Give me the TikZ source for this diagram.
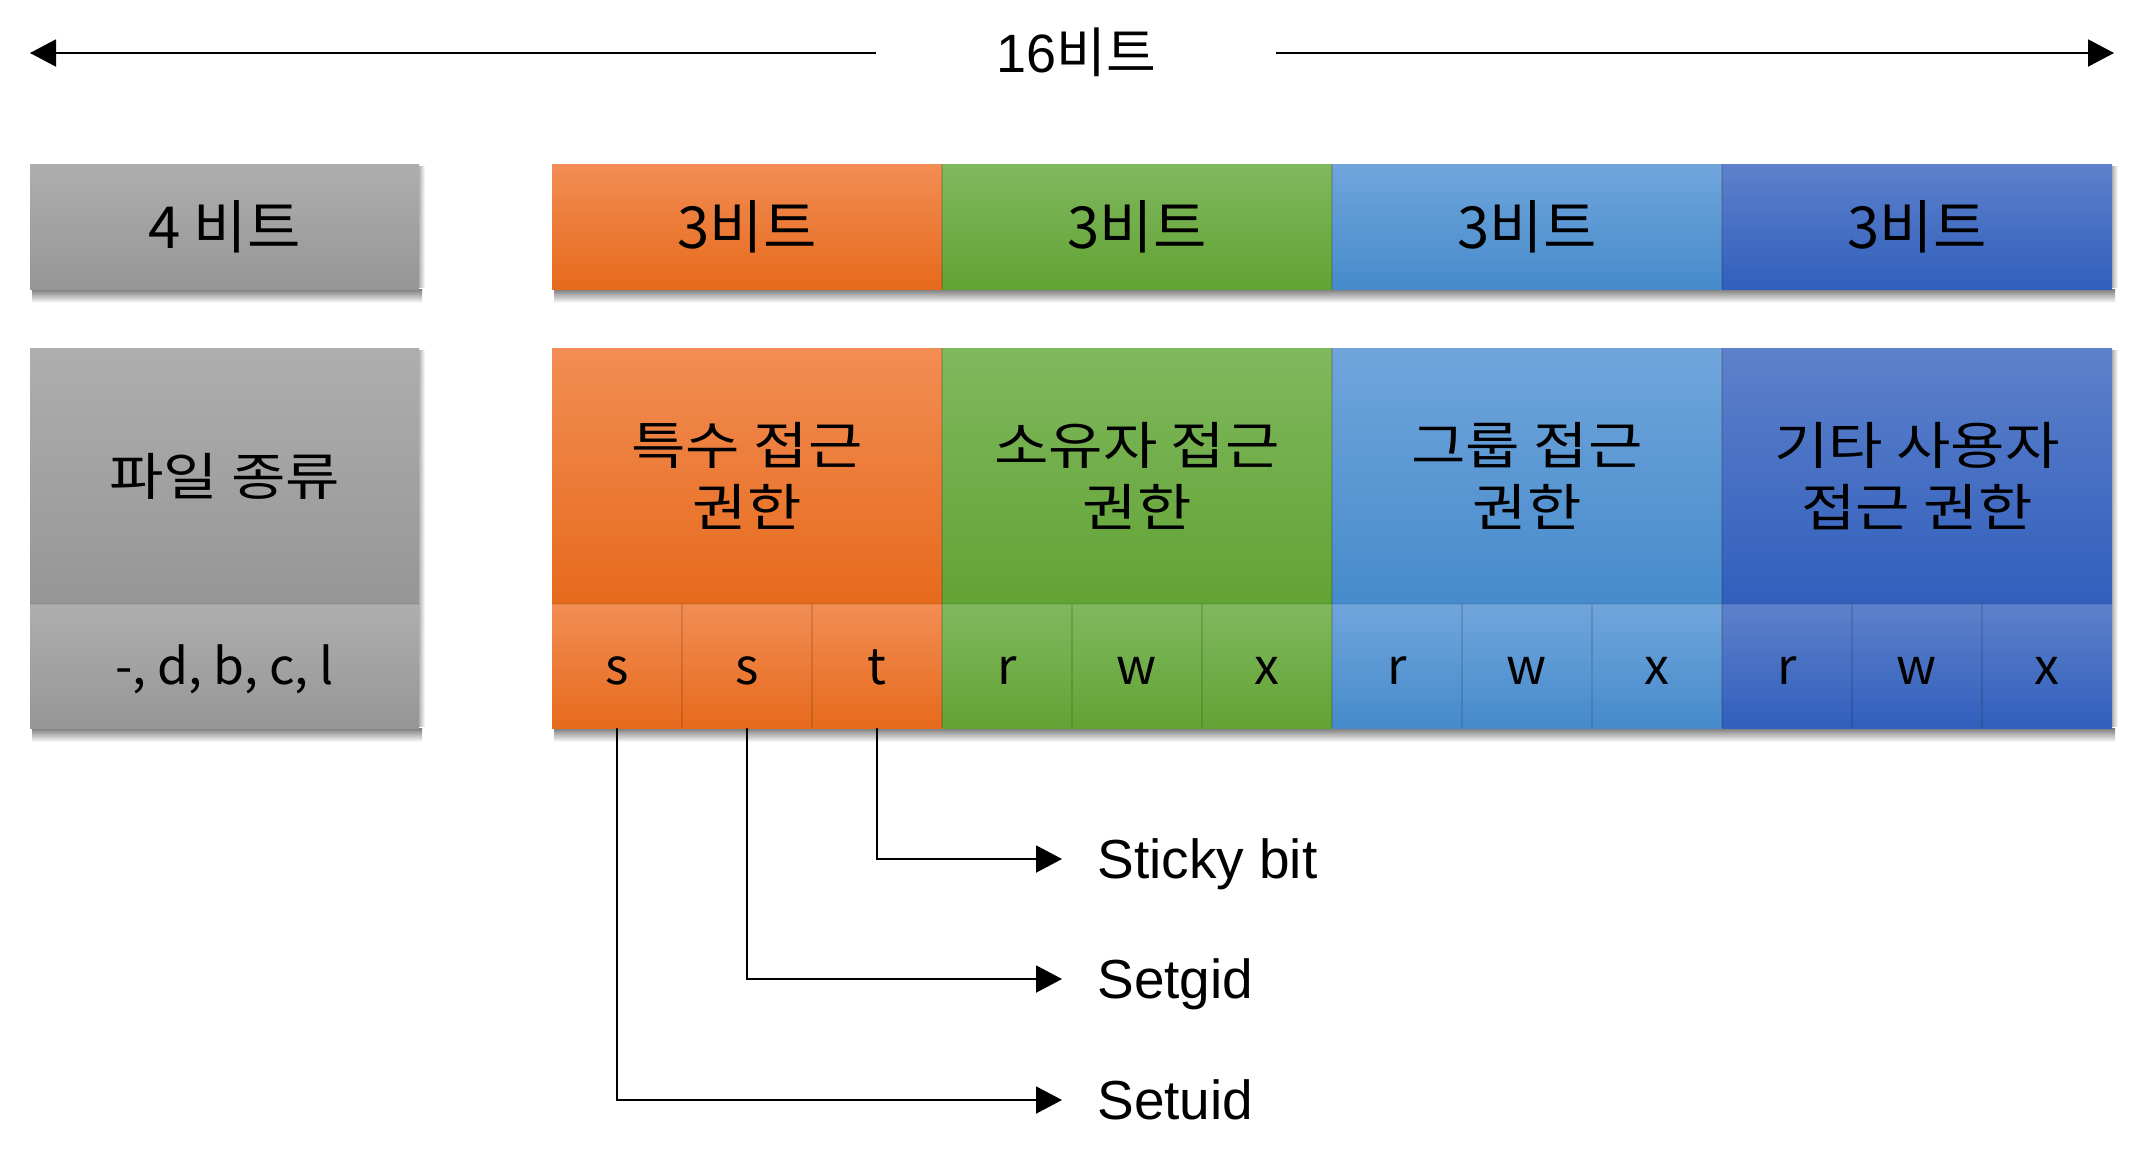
\documentclass[tikz,border=0pt]{standalone}
\usepackage{fontspec}
\setmainfont{Liberation Sans}
\newfontfamily\kr{Noto Sans CJK KR}
\newfontfamily\krw[FakeStretch=1.16]{Noto Sans CJK KR}
\usetikzlibrary{arrows.meta,backgrounds}
\definecolor{orT}{RGB}{242,141,84}
\definecolor{orB}{RGB}{230,106,28}
\definecolor{grT}{RGB}{128,184,94}
\definecolor{grB}{RGB}{98,163,52}
\definecolor{lbT}{RGB}{112,165,219}
\definecolor{lbB}{RGB}{70,139,204}
\definecolor{dbT}{RGB}{93,129,203}
\definecolor{dbB}{RGB}{49,95,188}
\definecolor{gyT}{RGB}{174,174,174}
\definecolor{gyB}{RGB}{150,150,150}
\begin{document}
\begin{tikzpicture}[x=0.5pt,y=-0.5pt,
  box/.style={inner sep=0pt, outer sep=0pt},
  fgray/.style={top color=gyT, bottom color=gyB},
  forange/.style={top color=orT, bottom color=orB},
  fgreen/.style={top color=grT, bottom color=grB},
  flblue/.style={top color=lbT, bottom color=lbB},
  fdblue/.style={top color=dbT, bottom color=dbB},
  toprow/.style={box, minimum width=195pt, minimum height=62.5pt, font=\kr\fontsize{29}{34}\selectfont},
  upper/.style={box, minimum width=195pt, minimum height=128pt, align=center, font=\krw\fontsize{25.5}{31}\selectfont},
  cell/.style={box, minimum width=65pt, minimum height=62pt, text height=18pt, text depth=0pt, font=\kr\fontsize{25}{30}\selectfont},
  conn/.style={line width=1pt, -{Triangle[length=13pt,width=13.5pt]}},
  lbl/.style={anchor=west, inner xsep=17.5pt, inner ysep=0pt, text height=19.7pt, text depth=0pt, font=\fontsize{27.5}{33}\selectfont},
  seam/.style={line width=1pt, black, opacity=0.12},
  shadowband/.style={top color=black!52, bottom color=white, draw=none}
]
\useasboundingbox (0,0) rectangle (2145,1168);

% title arrow
\node[inner xsep=60pt, inner ysep=0pt, text height=19.3pt, text depth=0pt, font=\fontsize{27}{32}\selectfont] (title) at (1076,53) {16{\kr 비트}};
\coordinate (ltip) at (30,53);
\coordinate (rtip) at (2114,53);
\draw[conn] (title.west) -- (ltip);
\draw[conn] (title.east) -- (rtip);

% top row
\node[toprow, fgray, minimum width=194.5pt] (g4) at (224.5,226.5) {4 비트};
\node[toprow, forange] (b1) at (747,226.5) {3비트};
\node[toprow, fgreen]  (b2) at (1137,226.5) {3비트};
\node[toprow, flblue]  (b3) at (1527,226.5) {3비트};
\node[toprow, fdblue]  (b4) at (1917,226.5) {3비트};

% second row, upper part
\node[upper, fgray, minimum width=194.5pt] (ftype) at (224.5,476) {파일 종류};
\node[upper, forange] (sp) at (747,476) {특수 접근\\권한};
\node[upper, fgreen]  (ow) at (1137,476) {소유자 접근\\권한};
\node[upper, flblue]  (gp) at (1527,476) {그룹 접근\\권한};
\node[upper, fdblue]  (ot) at (1917,476) {기타 사용자\\접근 권한};

% second row, lower cells
\node[cell, fgray, minimum width=194.5pt] (fchars) at (224.5,666) {-, d, b, c, l};
\node[cell, forange] (c1) at (617,666) {s};
\node[cell, forange] (c2) at (747,666) {s};
\node[cell, forange] (c3) at (877,666) {t};
\node[cell, fgreen]  (c4) at (1007,666) {r};
\node[cell, fgreen]  (c5) at (1137,666) {w};
\node[cell, fgreen]  (c6) at (1267,666) {x};
\node[cell, flblue]  (c7) at (1397,666) {r};
\node[cell, flblue]  (c8) at (1527,666) {w};
\node[cell, flblue]  (c9) at (1657,666) {x};
\node[cell, fdblue]  (c10) at (1787,666) {r};
\node[cell, fdblue]  (c11) at (1917,666) {w};
\node[cell, fdblue]  (c12) at (2047,666) {x};

% seams
\foreach \a in {b1,b2,b3,sp,ow,gp,c1,c2,c3,c4,c5,c6,c7,c8,c9,c10,c11}
  \draw[seam] (\a.north east) -- (\a.south east);
\foreach \a in {ftype,sp,ow,gp,ot}
  \draw[seam, opacity=0.06] (\a.south west) -- (\a.south east);

% soft shadows below the blocks
\begin{scope}[on background layer]
  \fill[white] (0,0) rectangle (2145,1168);
  \foreach \p/\q in {g4/g4, b1/b4, fchars/fchars, c1/c12}
    \shade[shadowband] ([xshift=1pt]\p.south west) rectangle ([xshift=1.5pt,yshift=-7pt]\q.south east);
  \foreach \p/\q in {g4/g4, b4/b4, ftype/fchars, ot/c12}
    \shade[left color=black!30, right color=white, draw=none] ([yshift=-1pt]\p.north east) rectangle ([xshift=3pt,yshift=1pt]\q.south east);
\end{scope}

% labels and connectors
\node[lbl] (sticky) at (1062,859) {Sticky bit};
\node[lbl] (setgid) at (1062,979) {Setgid};
\node[lbl] (setuid) at (1062,1100) {Setuid};
\draw[conn] (c3.south) |- (sticky.west);
\draw[conn] (c2.south) |- (setgid.west);
\draw[conn] (c1.south) |- (setuid.west);
\end{tikzpicture}
\end{document}
